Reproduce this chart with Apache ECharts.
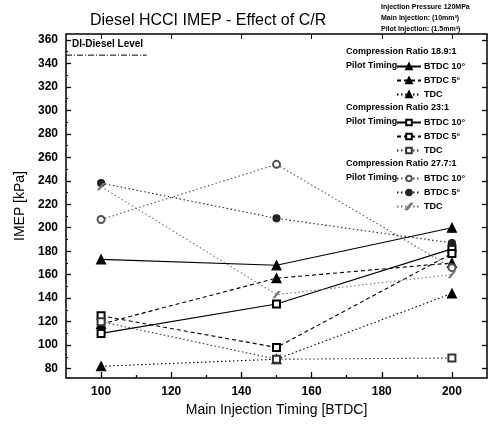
<!DOCTYPE html>
<html>
<head>
<meta charset="utf-8">
<script src="https://cdn.jsdelivr.net/npm/echarts@6/dist/echarts.min.js"></script>
<style>
  html, body { margin: 0; padding: 0; background: #fff; }
  #chart { width: 492px; height: 430px; }
</style>
</head>
<body>
<div id="chart"></div>
<script>
// main injection timing [BTDC]
const timing = [100, 150, 200];

// IMEP [kPa], compression ratio 18.9:1
const cr189Btdc10 = [173, 168, 200];
const cr189Btdc5 = [118, 157, 170];
const cr189Tdc = [82, 88, 144];

// compression ratio 23:1
const cr23Btdc10 = [110, 135, 182];
const cr23Btdc5 = [125, 98, 178];
const cr23Tdc = [120, 88, 89];

// compression ratio 27.7:1
const cr277Btdc10 = [207, 254, 166];
const cr277Btdc5 = [238, 208, 187];
const cr277Tdc = [235, 143, 160];

// DI-Diesel level reference line
const dieselLevelX = [90, 113];
const dieselLevel = 347;

// tick labels
const xTicks = [100, 120, 140, 160, 180, 200];
const xMinorTicks = [110, 130, 150, 170, 190];
const yTicks = [80, 100, 120, 140, 160, 180, 200, 220, 240, 260, 280, 300, 320, 340, 360];
const yMinorTicks = [90, 110, 130, 150, 170, 190, 210, 230, 250, 270, 290, 310, 330, 350];

const font = "'Liberation Sans', Arial, sans-serif";
const slash = "path://M0,10 L2,10 L10,0 L8,0 Z";

const pairs = (vals) => timing.map((t, i) => [t, vals[i]]);

const makeSeries = (name, vals, lineType, symbol, color, symbolSize) => ({
  name: name,
  type: "line",
  data: pairs(vals),
  symbol: symbol,
  symbolSize: symbolSize,
  showSymbol: true,
  color: color,
  lineStyle: { color: color, width: 1.1, type: lineType },
  itemStyle: { color: color, borderColor: color, borderWidth: 1.2 },
  z: 3,
});

const dash = [4, 3];
const dot = [1.5, 2.5];

const series = [
  makeSeries("a1", cr189Btdc10, "solid", "triangle", "#000", 9),
  makeSeries("a2", cr189Btdc5, dash, "triangle", "#000", 9),
  makeSeries("a3", cr189Tdc, dot, "triangle", "#000", 9),
  makeSeries("b1", cr23Btdc10, "solid", "emptyRect", "#000", 7),
  makeSeries("b2", cr23Btdc5, dash, "emptyRect", "#000", 7),
  makeSeries("b3", cr23Tdc, dot, "emptyRect", "#333", 7),
  makeSeries("c1", cr277Btdc10, dot, "emptyCircle", "#555", 7),
  makeSeries("c2", cr277Btdc5, dot, "circle", "#222", 7),
  makeSeries("c3", cr277Tdc, dot, slash, "#777", 6),
  {
    name: "diesel",
    type: "line",
    data: dieselLevelX.map((x) => [x, dieselLevel]),
    symbol: "none",
    lineStyle: { color: "#000", width: 1, type: [6, 2, 1, 2] },
    silent: true,
  },
];

const labelText = {
  a1: "BTDC 10°", a2: "BTDC 5°", a3: "TDC",
  b1: "BTDC 10°", b2: "BTDC 5°", b3: "TDC",
  c1: "BTDC 10°", c2: "BTDC 5°", c3: "TDC",
};

// legend rows (y positions of the text blocks)
const rowY = (i) => 53 + i * 14;
const legendRows = [
  ["a1", 1], ["a2", 2], ["a3", 3],
  ["b1", 5], ["b2", 6], ["b3", 7],
  ["c1", 9], ["c2", 10], ["c3", 11],
];

const legends = legendRows.map(([name, row]) => ({
  data: [name],
  left: 396,
  top: rowY(row) - 5,
  itemWidth: 24,
  itemHeight: 7,
  itemGap: 2,
  selectedMode: false,
  formatter: (n) => labelText[n],
  textStyle: { fontFamily: font, fontSize: 9, fontWeight: "bold", color: "#000", padding: [0, 0, 0, -2] },
  padding: 0,
}));

const headerText = (text, row) => ({
  type: "text",
  left: 346,
  top: rowY(row) - 6,
  style: { text: text, fontFamily: font, fontSize: 9, fontWeight: "bold", fill: "#000" },
});

const chart = echarts.init(document.getElementById("chart"));
chart.setOption({
  animation: false,
  title: {
    text: "Diesel HCCI IMEP - Effect of C/R",
    left: 85,
    top: 8,
    textStyle: { fontFamily: font, fontSize: 16, fontWeight: "normal", color: "#000" },
  },
  legend: legends,
  grid: {
    left: 66, right: 5, top: 34, bottom: 52,
    show: true, borderColor: "#000", borderWidth: 1.5,
  },
  xAxis: [
    {
      type: "value", min: 90, max: 210,
      name: "Main Injection Timing [BTDC]",
      nameLocation: "middle", nameGap: 25,
      nameTextStyle: { fontFamily: font, fontSize: 14, color: "#000" },
      axisLine: { show: false },
      axisTick: { show: true, inside: true, length: 6, customValues: xTicks, lineStyle: { color: "#000", width: 1.3 } },
      axisLabel: { customValues: xTicks, fontFamily: font, fontSize: 12, fontWeight: "bold", color: "#000", margin: 8 },
      splitLine: { show: false },
    },
    {
      type: "value", min: 90, max: 210, position: "bottom",
      axisLine: { show: false },
      axisTick: { show: true, inside: true, length: 3, customValues: xMinorTicks, lineStyle: { color: "#000", width: 1.3 } },
      axisLabel: { show: false },
      splitLine: { show: false },
    },
    {
      type: "value", min: 90, max: 210, position: "top",
      axisLine: { show: false },
      axisTick: { show: true, inside: true, length: 5, customValues: xTicks, lineStyle: { color: "#000" } },
      axisLabel: { show: false },
      splitLine: { show: false },
    },
  ],
  yAxis: [
    {
      type: "value", min: 72, max: 365,
      name: "IMEP [kPa]",
      nameLocation: "middle", nameGap: 37,
      nameTextStyle: { fontFamily: font, fontSize: 14, color: "#000" },
      axisLine: { show: false },
      axisTick: { show: true, inside: true, length: 5, customValues: yTicks, lineStyle: { color: "#000", width: 1.3 } },
      axisLabel: { customValues: yTicks, fontFamily: font, fontSize: 12, fontWeight: "bold", color: "#000", margin: 8 },
      splitLine: { show: false },
    },
    {
      type: "value", min: 72, max: 365, position: "left",
      axisLine: { show: false },
      axisTick: { show: true, inside: true, length: 2, customValues: yMinorTicks, lineStyle: { color: "#000" } },
      axisLabel: { show: false },
      splitLine: { show: false },
    },
    {
      type: "value", min: 72, max: 365, position: "right",
      axisLine: { show: false },
      axisTick: { show: true, inside: true, length: 5, customValues: yTicks, lineStyle: { color: "#000", width: 1.3 } },
      axisLabel: { show: false },
      splitLine: { show: false },
    },
  ],
  series: series,
  graphic: [
    headerText("Compression Ratio 18.9:1", 0),
    headerText("Pilot Timing", 1),
    headerText("Compression Ratio 23:1", 4),
    headerText("Pilot Timing", 5),
    headerText("Compression Ratio 27.7:1", 8),
    headerText("Pilot Timing", 9),
    {
      type: "text", left: 72, top: 39,
      style: { text: "DI-Diesel Level", fontFamily: font, fontSize: 10, fontWeight: "bold", fill: "#000" },
    },
    {
      type: "text", left: 381, top: 2,
      style: {
        text: "Injection Pressure 120MPa\nMain Injection: (10mm³)\nPilot Injection: (1.5mm³)",
        fontFamily: font, fontSize: 7, fontWeight: "bold", lineHeight: 11, fill: "#000",
      },
    },
  ],
});
</script>
</body>
</html>
